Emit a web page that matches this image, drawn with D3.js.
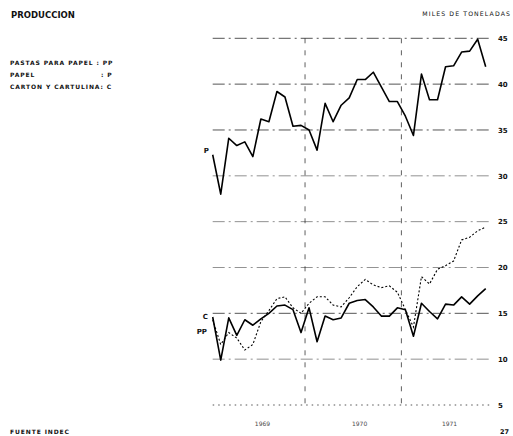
<!DOCTYPE html>
<html><head><meta charset="utf-8">
<script src="https://cdn.jsdelivr.net/npm/d3@7"></script>
<style>
html,body{margin:0;padding:0;background:#fff;}
svg text{font-family:"DejaVu Sans",sans-serif;fill:#111;}
</style></head>
<body><svg id="c" width="513" height="436"></svg>
<script>
// Monthly production, Jan 1969 - Nov 1971 (thousand tonnes)
const months = d3.range(35);
const papel = [32.3,28.0,34.1,33.3,33.7,32.1,36.2,35.9,39.2,38.6,35.4,35.5,
               35.0,32.8,37.9,35.9,37.7,38.5,40.5,40.5,41.3,39.7,38.1,38.1,
               36.5,34.4,41.1,38.3,38.3,41.9,42.0,43.5,43.6,44.9,41.9];
const carton = [14.6,9.9,14.5,12.6,14.3,13.7,14.4,15.0,15.8,15.9,15.4,12.9,
                15.6,11.9,14.7,14.3,14.5,16.1,16.4,16.5,15.7,14.7,14.7,15.6,
                15.4,12.5,16.1,15.2,14.4,16.0,15.9,16.8,16.0,16.9,17.7];
const pastas = [14.3,11.6,12.9,12.3,11.0,11.6,14.1,15.3,16.6,16.8,15.6,15.0,
                16.1,16.8,16.8,15.9,15.7,16.7,17.9,18.7,18.1,17.8,18.0,17.3,
                15.4,13.5,19.0,18.2,19.8,20.2,20.7,23.0,23.3,24.0,24.4];
const yTicks = [5,10,15,20,25,30,35,40,45];
const years = ["1969","1970","1971"];
const yearLabelPos = [6.2,18.3,29.5];
const yearBounds = [11.5,23.5];
const legendLines = ["PASTAS PARA PAPEL : PP","PAPEL                      : P","CARTON Y CARTULINA: C"];

const svg = d3.select("#c");
const x = d3.scaleLinear().domain([0,34]).range([212.7,485.7]);
const y = d3.scaleLinear().domain([5,45]).range([405,38.3]);
const gx0 = x(0), gx1 = 490;

// gridlines
svg.append("g").selectAll("line").data(yTicks).join("line")
  .attr("x1",gx0).attr("x2",gx1)
  .attr("y1",d=>y(d)).attr("y2",d=>y(d))
  .attr("stroke","#222").attr("stroke-width",0.9)
  .attr("stroke-dasharray",d=>d===5?"1.5,4":"12,4,2,4")
  .attr("opacity",d=>[30,25,20,10].includes(d)?0.55:0.85);

// year boundaries
svg.append("g").selectAll("line").data(yearBounds).join("line")
  .attr("x1",d=>x(d)).attr("x2",d=>x(d))
  .attr("y1",y(45)).attr("y2",y(5))
  .attr("stroke","#222").attr("stroke-width",0.9)
  .attr("stroke-dasharray","5,7").attr("opacity",0.8);

// right axis labels
const ax = svg.append("g").attr("transform",`translate(496,0)`)
  .call(d3.axisRight(y).tickValues(yTicks).tickSize(0).tickPadding(2).tickFormat(d3.format("d")));
ax.select(".domain").remove();
ax.selectAll("text").attr("font-size",7).attr("font-weight","bold")
  .attr("font-family","DejaVu Sans, sans-serif");

const line = d3.line().x((d,i)=>x(months[i])).y(d=>y(d));
svg.append("path").attr("d",line(papel)).attr("fill","none")
  .attr("stroke","#000").attr("stroke-width",1.6).attr("stroke-linejoin","round");
svg.append("path").attr("d",line(carton)).attr("fill","none")
  .attr("stroke","#000").attr("stroke-width",1.6).attr("stroke-linejoin","round");
svg.append("path").attr("d",line(pastas)).attr("fill","none")
  .attr("stroke","#000").attr("stroke-width",1.1).attr("stroke-dasharray","2,2");

// series labels
svg.append("text").attr("x",x(0)-9).attr("y",y(papel[0])-2).attr("font-size",7).attr("font-weight","bold").text("P");
svg.append("text").attr("x",x(0)-10).attr("y",y(carton[0])+2).attr("font-size",7).attr("font-weight","bold").text("C");
svg.append("text").attr("x",x(0)-16).attr("y",y(pastas[0])+14).attr("font-size",7).attr("font-weight","bold").text("PP");

// titles
svg.append("text").attr("x",11).attr("y",18).attr("font-size",8.5).attr("font-weight","bold").text("PRODUCCION");
svg.append("text").attr("x",511).attr("y",16).attr("text-anchor","end").attr("font-size",6.2)
  .attr("letter-spacing",1.1).text("MILES DE TONELADAS");
svg.append("g").selectAll("text").data(legendLines).join("text")
  .attr("x",10).attr("y",(d,i)=>65+i*12).attr("font-size",6)
  .attr("font-weight","bold").attr("letter-spacing",0.9)
  .attr("xml:space","preserve").style("white-space","pre").text(d=>d);
svg.append("g").selectAll("text").data(years).join("text")
  .attr("x",(d,i)=>x(yearLabelPos[i])).attr("y",426).attr("text-anchor","middle")
  .attr("font-size",6).attr("opacity",0.8).text(d=>d);
svg.append("text").attr("x",10).attr("y",434).attr("font-size",6).attr("font-weight","bold")
  .attr("letter-spacing",0.9).text("FUENTE  INDEC");
svg.append("text").attr("x",500).attr("y",434).attr("font-size",6.5).attr("font-weight","bold").text("27");
</script></body></html>
